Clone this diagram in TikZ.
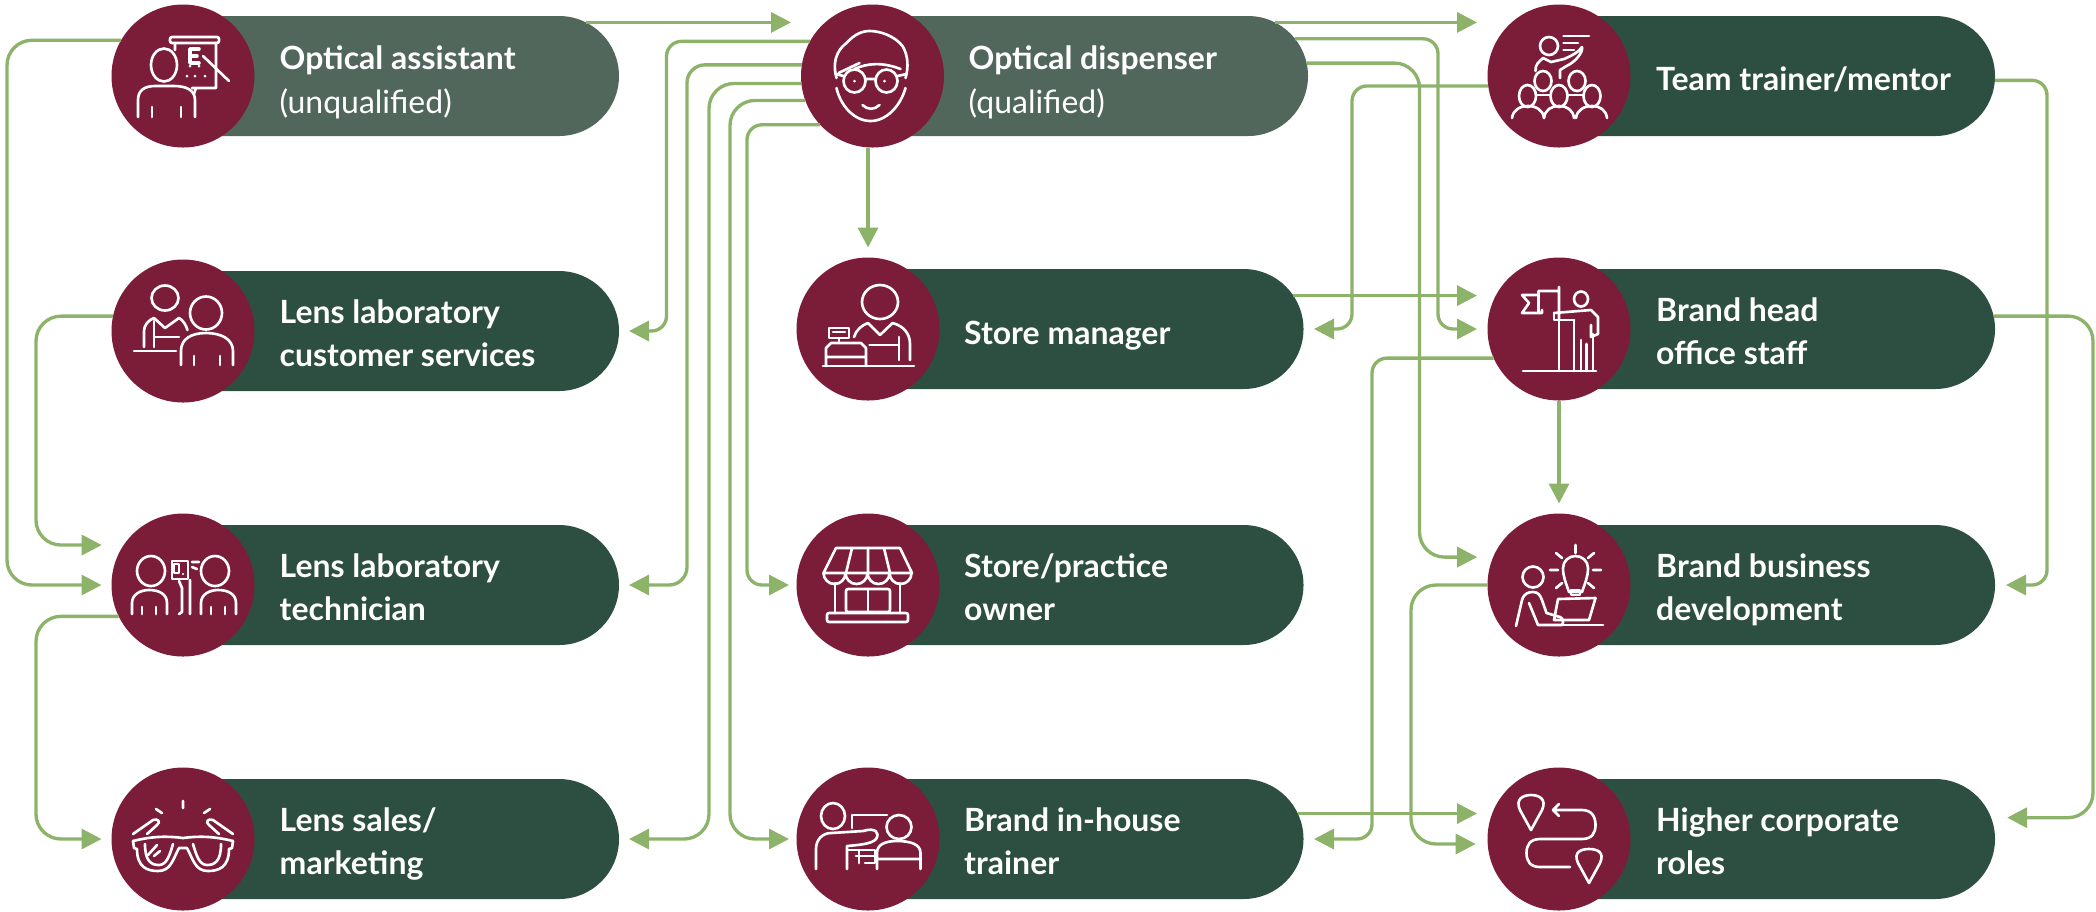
\documentclass[tikz,border=0pt]{standalone}
\usepackage{fontspec}
\setmainfont{Lato}
\usetikzlibrary{arrows.meta,shapes.misc}
\definecolor{pillgreen}{HTML}{2D4F41}
\definecolor{palegreen}{HTML}{52675C}
\definecolor{maroon}{HTML}{7B1C38}
\definecolor{linkgreen}{HTML}{8CB369}
\begin{document}
\begin{tikzpicture}[mpill/.style={shape=rounded rectangle,fill=pillgreen,minimum width=4.96cm,minimum height=1.2cm,inner sep=0pt,outer sep=0pt},
    mcirc/.style={circle,fill=maroon,minimum size=1.43cm,inner sep=0pt,outer sep=0pt},
    mtext/.style={anchor=base west,align=left,text=white,inner sep=0pt,font=\fontsize{9.1}{12.3}\selectfont\bfseries},
    mlink/.style={draw=linkgreen,line width=.95pt,rounded corners=.25cm,-{Triangle[length=.2cm,width=.2cm]}},
    micon/.style={white,line width=.75pt,line cap=round,line join=round}]
  \useasboundingbox (0,0) rectangle (20.96,-9.11);
  % first column
  \node[mpill,fill=palegreen] (OA) at (3.71,-.76) {};
  \node[mpill] (CS) at (3.71,-3.31) {};
  \node[mpill] (LT) at (3.71,-5.85) {};
  \node[mpill] (LS) at (3.71,-8.39) {};
  \node[mcirc] (OAc) at (1.83,-.76) {};
  \node[mcirc] (CSc) at (1.83,-3.31) {};
  \node[mcirc] (LTc) at (1.83,-5.85) {};
  \node[mcirc] (LSc) at (1.83,-8.39) {};
  % second column
  \node[mpill,fill=palegreen] (OD) at (10.6,-.76) {};
  \node[mpill] (SM) at (10.555,-3.29) {};
  \node[mpill] (SO) at (10.555,-5.85) {};
  \node[mpill] (BT) at (10.555,-8.39) {};
  \node[mcirc] (ODc) at (8.725,-.76) {};
  \node[mcirc] (SMc) at (8.68,-3.29) {};
  \node[mcirc] (SOc) at (8.68,-5.85) {};
  \node[mcirc] (BTc) at (8.68,-8.39) {};
  % third column
  \node[mpill] (TT) at (17.47,-.76) {};
  \node[mpill] (BH) at (17.47,-3.29) {};
  \node[mpill] (BB) at (17.47,-5.85) {};
  \node[mpill] (HC) at (17.47,-8.39) {};
  \node[mcirc] (TTc) at (15.59,-.76) {};
  \node[mcirc] (BHc) at (15.59,-3.29) {};
  \node[mcirc] (BBc) at (15.59,-5.85) {};
  \node[mcirc] (HCc) at (15.59,-8.39) {};
  % labels
  \node[mtext] (OAt) at (2.79,-1.13) {Optical assistant\\{\mdseries (unqualified)}};
  \node[mtext] (CSt) at (2.79,-3.665) {Lens laboratory\\customer services};
  \node[mtext] (LTt) at (2.79,-6.205) {Lens laboratory\\technician};
  \node[mtext] (LSt) at (2.79,-8.745) {Lens sales/\\marketing};
  \node[mtext] (ODt) at (9.68,-1.13) {Optical dispenser\\{\mdseries (qualified)}};
  \node[mtext] (SMt) at (9.635,-3.44) {Store manager};
  \node[mtext] (SOt) at (9.635,-6.205) {Store/practice\\owner};
  \node[mtext] (BTt) at (9.635,-8.745) {Brand in-house\\trainer};
  \node[mtext] (TTt) at (16.555,-.905) {Team trainer/mentor};
  \node[mtext] (BHt) at (16.555,-3.645) {Brand head\\office staff};
  \node[mtext] (BBt) at (16.555,-6.205) {Brand business\\development};
  \node[mtext] (HCt) at (16.555,-8.745) {Higher corporate\\roles};
  % connectors
  \draw[mlink,shorten >=.1cm] (OA.14.4) -- (OA.14.4 -| ODc.west);
  \draw[mlink,shorten >=.1cm] (OAc.150.7) -| (.07,-3) |- (LTc.west);
  \draw[mlink,shorten >=.22cm] (CSc.168.7) -| (.36,-4) |- (LTc.146);
  \draw[mlink,shorten >=.1cm] (LTc.206.6) -| (.36,-7) |- (LSc.west);
  \draw[mlink,shorten >=.1cm,rounded corners=.15cm] (ODc.151.6) -| (6.665,-2) |- (CS.east);
  \draw[mlink,shorten >=.1cm,rounded corners=.18cm] (ODc.171.15) -| (6.87,-3) |- (LT.east);
  \draw[mlink,shorten >=.1cm] (ODc.186.4) -| (7.09,-4) |- (LS.east);
  \draw[mlink,shorten >=.075cm] (ODc.200.2) -| (7.3,-4) |- (BTc.west);
  \draw[mlink,shorten >=.075cm,rounded corners=.15cm] (ODc.223.3) -| (7.47,-3) |- (SOc.west);
  \draw[mlink,shorten >=.1cm] (SMc.north |- ODc.south) -- (SMc.north);
  \draw[mlink,shorten >=.105cm] (OD.14.4) -- (OD.14.4 -| TTc.west);
  \draw[mlink,shorten >=.105cm,rounded corners=.15cm] (OD.9.1) -| (14.38,-2) |- (BHc.west);
  \draw[mlink,shorten >=.16cm] (OD.3.5) -| (14.195,-3) |- (BBc.157.8);
  \draw[mlink,shorten >=.105cm] (SM.8.16) -- (SM.8.16 -| BHc.west);
  \draw[mlink,shorten >=.105cm,rounded corners=.15cm] (TTc.188) -| (13.52,-2) |- (SM.east);
  \draw[mlink,shorten >=.11cm,rounded corners=.15cm] (TT.-1.15) -| (20.47,-3) |- (BB.east);
  \draw[mlink,shorten >=.16cm] (BH.3.9) -| (20.93,-5) |- (HC.5.4);
  \draw[mlink,shorten >=.105cm,rounded corners=.15cm] (BHc.204.8) -| (13.72,-6) |- (BT.east);
  \draw[mlink,shorten >=.1cm] (BHc.south) -- (BBc.north);
  \draw[mlink,shorten >=.105cm] (BT.6.4) -- (BT.6.4 -| HCc.west);
  \draw[mlink,shorten >=.12cm] (BBc.west) -| (14.11,-7) |- (HCc.184.8);
  % icons
  \begin{scope}[shift={(OAc.center)},micon]
    \draw (-.19,.11) ellipse (.13 and .165);
    \draw (-.45,-.41) -- (-.45,-.24) .. controls (-.45,-.14) and (-.38,-.1) .. (-.28,-.1) -- (-.09,-.1) .. controls (.03,-.1) and (.12,-.14) .. (.12,-.24) -- (.12,-.41);
    \draw (-.31,-.31) -- (-.31,-.41) (-.02,-.31) -- (-.02,-.41);
    \draw[rounded corners=.02cm] (-.13,.33) rectangle (.36,.39);
    \draw (-.08,.33) -- (-.08,.26) (.33,.33) -- (.33,-.12) -- (.09,-.12) (.13,-.12) -- (.11,-.18);
    \draw[line width=1pt] (.16,.27) -- (.07,.27) -- (.07,.13) -- (.16,.13) (.07,.2) -- (.14,.2);
    \draw (.2,.2) -- (.46,-.05);
    \fill (.07,.1) circle (.015) (.16,.1) circle (.015) (.04,0) circle (.015) (.12,0) circle (.015) (.22,0) circle (.015);
  \end{scope}
  \begin{scope}[shift={(CSc.center)},micon]
    \draw (-.18,.33) ellipse (.135 and .125);
    \draw (.23,.18) ellipse (.16 and .165);
    \draw (-.02,-.34) -- (-.02,-.2) .. controls (-.02,-.08) and (.08,-.02) .. (.23,-.02) .. controls (.38,-.02) and (.5,-.08) .. (.5,-.2) -- (.5,-.34);
    \draw (.11,-.25) -- (.11,-.34) (.37,-.25) -- (.37,-.34);
    \draw (-.39,-.16) -- (-.39,-.01) .. controls (-.39,.07) and (-.34,.11) .. (-.29,.13) -- (-.18,.03) -- (-.04,.13) .. controls (0,.11) and (.03,.06) .. (.045,.01);
    \draw (-.29,.1) -- (-.29,-.16) (-.29,-.06) -- (-.04,-.06) (-.49,-.2) -- (-.07,-.2);
  \end{scope}
  \begin{scope}[shift={(LTc.center)},micon]
    \draw (-.32,.14) ellipse (.14 and .15) (.32,.14) ellipse (.14 and .15);
    \draw (-.51,-.29) -- (-.51,-.18) .. controls (-.51,-.09) and (-.42,-.05) .. (-.34,-.05) .. controls (-.24,-.05) and (-.16,-.09) .. (-.16,-.18) -- (-.16,-.29);
    \draw (.18,-.29) -- (.18,-.18) .. controls (.18,-.09) and (.27,-.05) .. (.35,-.05) .. controls (.45,-.05) and (.53,-.09) .. (.53,-.18) -- (.53,-.29);
    \draw (-.41,-.22) -- (-.41,-.29) (-.27,-.22) -- (-.27,-.29) (.28,-.22) -- (.28,-.29) (.42,-.22) -- (.42,-.29);
    \draw (-.11,.06) rectangle (.05,.24) (-.09,.12) rectangle (-.04,.21);
    \fill (0,.11) circle (.012);
    \draw (-.04,.04) -- (-.01,-.03) -- (-.01,-.27) -- (-.04,-.29) (.07,.05) -- (.07,-.29);
    \draw (.09,.23) -- (.16,.23) (.09,.18) -- (.14,.16);
  \end{scope}
  \begin{scope}[shift={(LSc.center)},micon]
    \draw (0,.38) -- (0,.31) (-.27,.3) -- (-.21,.26) (.27,.3) -- (.21,.26);
    \draw (-.5,-.02) .. controls (-.3,.03) and (-.15,.03) .. (0,.01) .. controls (.15,.03) and (.3,.03) .. (.5,-.02);
    \draw (-.5,-.02) -- (-.49,-.09) -- (-.46,-.1) .. controls (-.46,-.28) and (-.36,-.32) .. (-.25,-.32) .. controls (-.12,-.32) and (-.1,-.2) .. (-.04,-.09) -- (.04,-.09) .. controls (.1,-.2) and (.12,-.32) .. (.25,-.32) .. controls (.36,-.32) and (.46,-.28) .. (.46,-.1) -- (.49,-.09) -- (.5,-.02);
    \draw (-.38,-.05) .. controls (-.38,-.22) and (-.32,-.26) .. (-.24,-.26) .. controls (-.16,-.26) and (-.13,-.15) .. (-.1,-.05);
    \draw (.38,-.05) .. controls (.38,-.22) and (.32,-.26) .. (.24,-.26) .. controls (.16,-.26) and (.13,-.15) .. (.1,-.05);
    \draw (-.35,-.16) -- (-.26,-.06) (-.29,-.17) -- (-.23,-.12);
    \draw (-.5,.05) -- (-.3,.19) .. controls (-.25,.21) and (-.22,.17) .. (-.26,.14) -- (-.36,.05);
    \draw (.5,.05) -- (.3,.19) .. controls (.25,.21) and (.22,.17) .. (.26,.14) -- (.36,.05);
  \end{scope}
  \begin{scope}[shift={(ODc.center)},micon]
    \draw (-.36,-.02) .. controls (-.42,.2) and (-.3,.3) .. (-.26,.33) .. controls (-.18,.42) and (-.1,.45) .. (-.03,.45) .. controls (.08,.45) and (.22,.4) .. (.3,.3) .. controls (.36,.2) and (.36,.08) .. (.33,-.02);
    \draw (-.36,-.12) .. controls (-.32,-.3) and (-.18,-.45) .. (-.02,-.45) .. controls (.14,-.45) and (.28,-.3) .. (.33,-.12);
    \draw (-.18,-.05) ellipse (.11 and .115) (.14,-.05) ellipse (.11 and .115);
    \draw (-.07,-.03) -- (.03,-.03) (-.29,0) -- (-.37,.02) (.25,0) -- (.34,.02);
    \draw (-.34,.03) -- (-.13,.13) (-.18,.07) .. controls (-.05,.13) and (.1,.14) .. (.28,.07);
    \fill (-.18,-.05) circle (.015) (.12,-.05) circle (.015);
    \draw (-.1,-.29) .. controls (-.05,-.34) and (.02,-.34) .. (.07,-.29);
  \end{scope}
  \begin{scope}[shift={(SMc.center)},micon]
    \draw (.12,.27) ellipse (.18 and .17);
    \draw (-.14,-.08) .. controls (-.12,-.01) and (-.06,.04) .. (0,.06) -- (.12,-.06) -- (.245,.06) .. controls (.36,.03) and (.42,-.05) .. (.42,-.15) -- (.42,-.31);
    \draw (.31,-.08) -- (.31,-.31) (.015,-.16) -- (.3,-.16);
    \draw (-.45,-.37) -- (.46,-.37);
    \draw (-.42,-.37) -- (-.42,-.19) -- (-.37,-.14) -- (-.07,-.14) -- (-.02,-.19) -- (-.02,-.37) (-.42,-.28) -- (-.02,-.28);
    \draw (-.39,.01) rectangle (-.19,-.09) (-.35,-.03) -- (-.23,-.03) (-.29,-.09) -- (-.29,-.14);
  \end{scope}
  \begin{scope}[shift={(SOc.center)},micon]
    \draw (-.445,.12) -- (-.32,.37) -- (.32,.37) -- (.44,.12) -- cycle;
    \draw (-.16,.37) -- (-.22,.12) (0,.37) -- (0,.12) (.16,.37) -- (.22,.12);
    \draw (-.445,.12) arc (180:360:.11) arc (180:360:.11) arc (180:360:.11) arc (180:360:.11);
    \draw (-.33,.02) -- (-.33,-.28) (.32,.02) -- (.32,-.28);
    \draw[rounded corners=.02cm] (-.41,-.28) rectangle (.4,-.37);
    \draw[rounded corners=.02cm] (-.22,-.04) rectangle (.22,-.27);
    \draw (0,-.04) -- (0,-.27);
  \end{scope}
  \begin{scope}[shift={(BTc.center)},micon]
    \draw (-.35,.23) ellipse (.12 and .13) (.31,.12) ellipse (.125 and .12);
    \draw (-.52,-.3) -- (-.52,-.1) .. controls (-.52,0) and (-.45,.06) .. (-.37,.06) -- (-.05,.08) .. controls (.08,.12) and (.12,.06) .. (.08,0) .. controls (.04,-.05) and (-.1,-.06) .. (-.21,-.07) -- (-.21,-.3);
    \draw (-.16,.11) -- (-.16,.24) -- (.19,.24);
    \draw (-.21,-.11) -- (.07,-.11) -- (.07,-.24) -- (-.03,-.24) (-.12,-.17) -- (.07,-.17) (-.09,-.11) -- (-.09,-.24);
    \draw (.09,-.3) -- (.09,-.14) .. controls (.09,-.05) and (.18,-.02) .. (.29,-.02) .. controls (.42,-.02) and (.525,-.05) .. (.525,-.14) -- (.525,-.3) (.09,-.2) -- (.525,-.2);
  \end{scope}
  \begin{scope}[shift={(TTc.center)},micon]
    \draw (-.1,.3) ellipse (.09 and .09);
    \draw (.045,.4) -- (.3,.4) (.045,.33) -- (.19,.33) (.045,.26) -- (.15,.26);
    \draw (-.235,.05) .. controls (-.24,.12) and (-.2,.14) .. (-.16,.18) -- (-.08,.14) -- (.05,.17) .. controls (.12,.2) and (.2,.24) .. (.23,.29) .. controls (.24,.23) and (.16,.14) .. (.075,.1) -- (.01,.06) -- (.01,-.02);
    \draw (-.16,-.05) ellipse (.085 and .1) (.18,-.05) ellipse (.085 and .1);
    \draw (-.315,-.2) ellipse (.085 and .11) (0,-.2) ellipse (.085 and .11) (.33,-.2) ellipse (.085 and .11);
    \draw (-.47,-.42) .. controls (-.46,-.34) and (-.39,-.3) .. (-.31,-.3) .. controls (-.23,-.3) and (-.16,-.34) .. (-.15,-.42);
    \draw (-.15,-.42) .. controls (-.14,-.34) and (-.08,-.3) .. (0,-.3) .. controls (.08,-.3) and (.14,-.34) .. (.15,-.42);
    \draw (.17,-.42) .. controls (.18,-.34) and (.25,-.3) .. (.33,-.3) .. controls (.41,-.3) and (.47,-.34) .. (.48,-.42);
    \draw (-.23,-.19) -- (-.09,-.19) (.09,-.19) -- (.24,-.19);
  \end{scope}
  \begin{scope}[shift={(BHc.center)},micon]
    \draw (.22,.3) ellipse (.07 and .075);
    \draw (0,.42) -- (0,.09) (0,.38) -- (-.205,.38) -- (-.205,.16) (-.205,.34) -- (-.37,.34) -- (-.3,.26) -- (-.37,.16) -- (-.17,.16) -- (-.17,.19);
    \draw (-.05,.16) -- (.32,.19) -- (.39,.12) -- (.39,-.05) -- (.32,-.08) -- (.32,.04);
    \draw (-.05,.16) -- (-.05,.09) -- (.15,.09);
    \draw (0,.09) -- (0,-.42) (.15,.09) -- (.15,-.42) (.22,-.11) -- (.22,-.42) (.275,-.15) -- (.275,-.42) (.34,-.05) -- (.34,-.42);
    \draw (-.36,-.42) -- (.37,-.42);
  \end{scope}
  \begin{scope}[shift={(BBc.center)},micon]
    \draw (.1,-.07) .. controls (.07,.02) and (.04,.08) .. (.04,.17) .. controls (.04,.24) and (.1,.29) .. (.165,.29) .. controls (.23,.29) and (.29,.24) .. (.29,.17) .. controls (.29,.08) and (.26,.02) .. (.23,-.07) -- cycle;
    \draw (.12,-.1) rectangle (.21,-.05);
    \draw (.165,.4) -- (.165,.32) (-.03,.32) -- (.03,.27) (.35,.32) -- (.29,.27) (-.09,.15) -- (-.01,.15) (.34,.15) -- (.42,.15) (-.03,-.03) -- (.03,.02) (.35,-.03) -- (.29,.02);
    \draw (-.26,.08) ellipse (.105 and .105);
    \draw (-.43,-.41) -- (-.37,-.15) .. controls (-.35,-.08) and (-.3,-.07) .. (-.26,-.07) .. controls (-.21,-.07) and (-.19,-.1) .. (-.17,-.15) -- (-.125,-.28) -- (.01,-.32) .. controls (.04,-.33) and (.05,-.37) .. (.03,-.4) -- (-.21,-.4) -- (-.3,-.18);
    \draw (-.01,-.14) -- (.365,-.13) -- (.3,-.35) -- (-.05,-.35) -- cycle;
    \draw (.03,-.4) -- (.44,-.4);
  \end{scope}
  \begin{scope}[shift={(HCc.center)},micon]
    \draw (-.28,.09) -- (-.39,.29) .. controls (-.44,.4) and (-.36,.44) .. (-.28,.44) .. controls (-.2,.44) and (-.12,.4) .. (-.17,.29) -- cycle;
    \draw (.3,-.44) -- (.19,-.24) .. controls (.14,-.13) and (.22,-.1) .. (.3,-.1) .. controls (.38,-.1) and (.46,-.13) .. (.41,-.24) -- cycle;
    \draw (0,.35) -- (-.06,.29) -- (0,.23) (-.06,.29) -- (.23,.29) .. controls (.33,.29) and (.365,.22) .. (.365,.14) .. controls (.365,.06) and (.33,0) .. (.23,0) -- (-.19,0) .. controls (-.29,0) and (-.325,-.06) .. (-.325,-.14) .. controls (-.325,-.22) and (-.29,-.28) .. (-.19,-.28) -- (.11,-.28);
  \end{scope}
\end{tikzpicture}
\end{document}
